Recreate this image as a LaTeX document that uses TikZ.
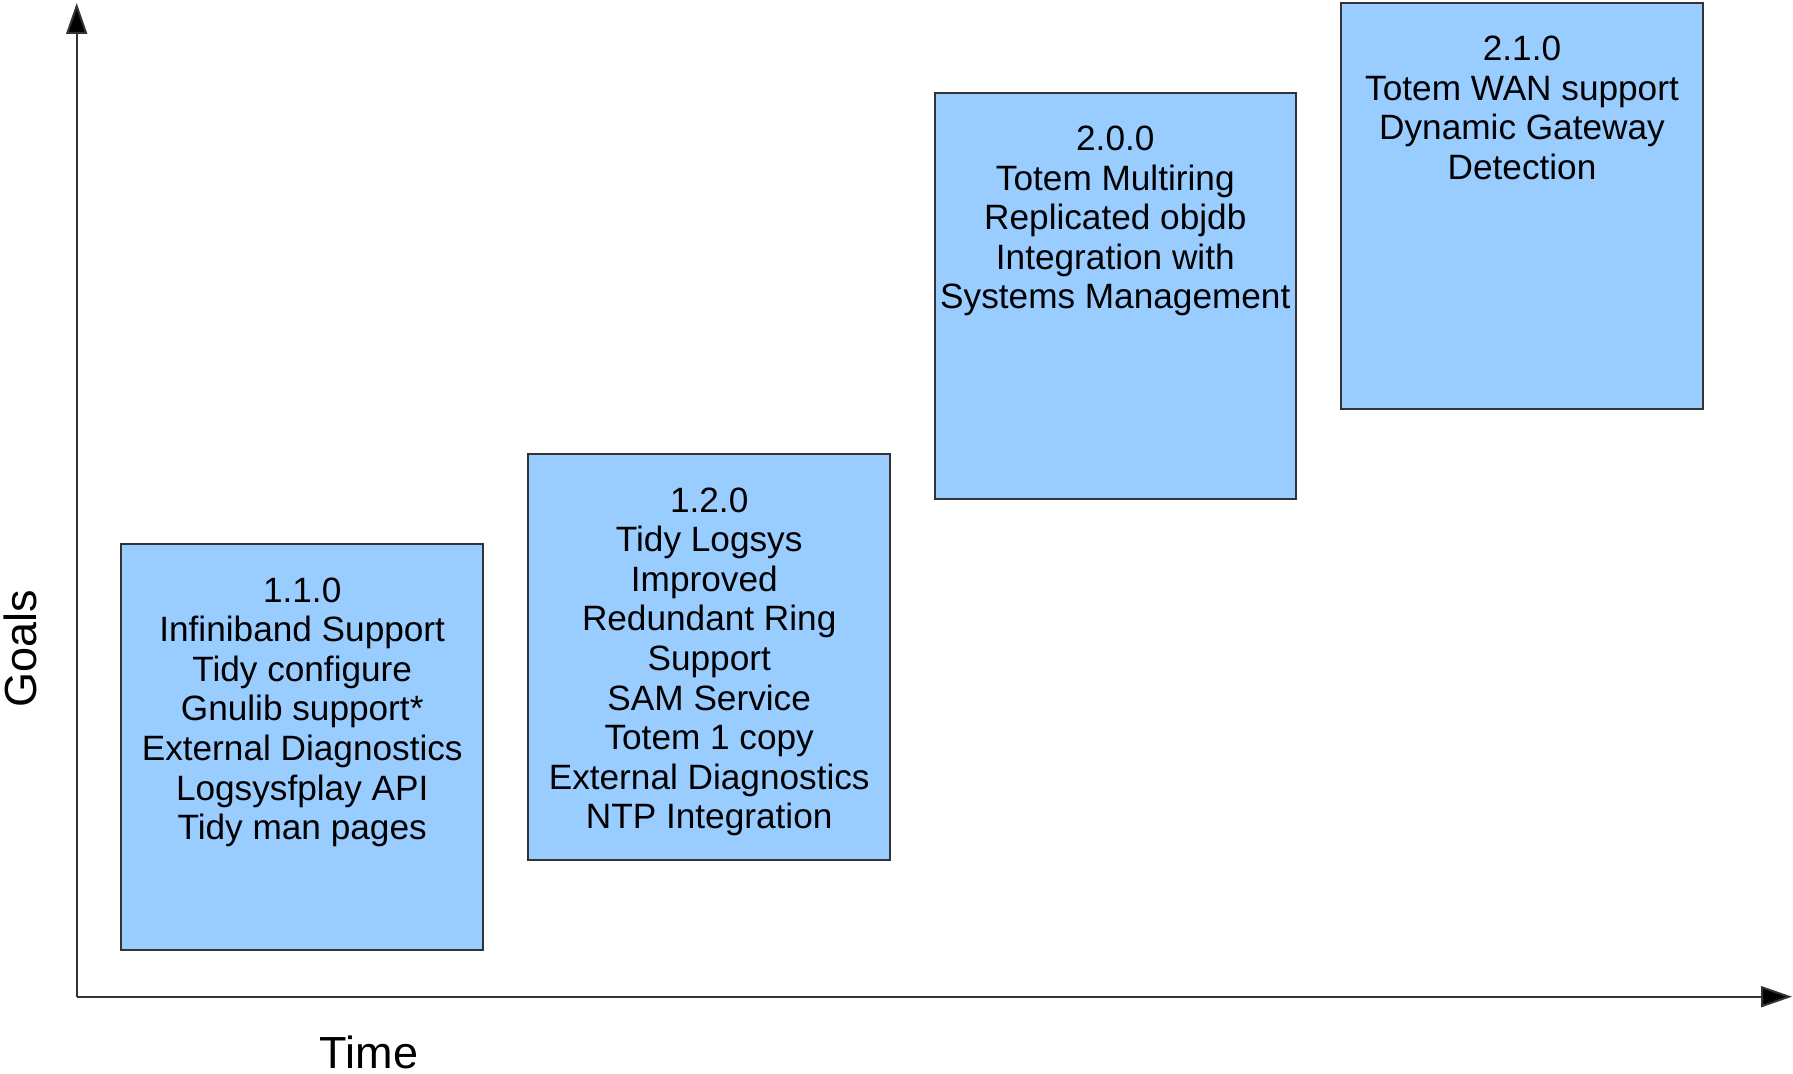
\documentclass[tikz,border=0pt]{standalone}
\usepackage{fontspec}
\setmainfont{Liberation Sans}
\usetikzlibrary{arrows.meta,positioning}

\definecolor{goalblue}{HTML}{99CCFF}
\definecolor{edgegray}{HTML}{333333}

\begin{document}
\begin{tikzpicture}[x=0.5pt, y=-0.5pt,
		release/.style={draw=edgegray, line width=1pt, fill=goalblue, minimum width=180.75pt, minimum height=203pt, inner sep=0pt},
		goals/.style={align=center, inner sep=0pt, font=\fontsize{17.6}{19.8}\selectfont},
		axislabel/.style={inner sep=0pt, anchor=base, font=\fontsize{22.5}{26}\selectfont},
		axis/.style={line width=1pt, edgegray, -{Triangle[width=10.5pt, length=15.5pt, fill=black]}}]
	\useasboundingbox (0,0) rectangle (1793,1074);

	\coordinate (origin) at (76.7, 996.7);
	\coordinate (ytip) at (76.7, 3);
	\coordinate (xtip) at (1792, 996.7);
	\draw[axis] (origin) -- (ytip);
	\draw[axis] (origin) -- (xtip);

	\node[axislabel, rotate=90] (goalslabel) at (36.5, 649) {Goals};
	\node[axislabel] (timelabel) at (369, 1068) {Time};

	\node[release] (v110) at (302.2, 747.3) {};
	\node[release] (v120) at (709.2, 657.3) {};
	\node[release] (v200) at (1115.3, 295.7) {};
	\node[release] (v210) at (1522, 205.7) {};

	\node[goals, below=16.9pt of v110.north] (t110) {1.1.0\\Infiniband Support\\Tidy configure\\Gnulib support*\\External Diagnostics\\Logsysfplay API\\Tidy man pages};
	\node[goals, below=16.9pt of v120.north] (t120) {1.2.0\\Tidy Logsys\\Improved\hphantom{\ }\\Redundant Ring\\Support\\SAM Service\\Totem 1 copy\\External Diagnostics\\NTP Integration};
	\node[goals, below=16.9pt of v200.north] (t200) {2.0.0\\Totem Multiring\\Replicated objdb\\Integration with\\Systems Management};
	\node[goals, below=16.9pt of v210.north] (t210) {2.1.0\\Totem WAN support\\Dynamic Gateway\\Detection};
\end{tikzpicture}
\end{document}
